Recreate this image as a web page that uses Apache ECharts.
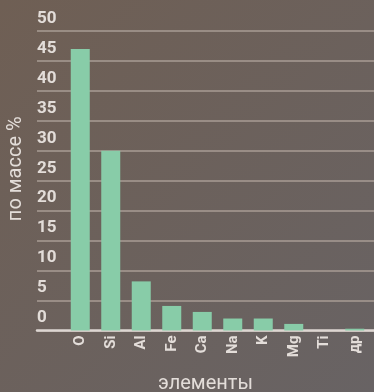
<!DOCTYPE html>
<html>
<head>
<meta charset="utf-8">
<script src="https://cdn.jsdelivr.net/npm/echarts@6/dist/echarts.min.js"></script>
<style>
  html, body { margin: 0; padding: 0; }
  #draw { width: 374px; height: 392px; }
</style>
</head>
<body>
<div id="draw"></div>
<script>
// данные
var elements = ['O', 'Si', 'Al', 'Fe', 'Ca', 'Na', 'K', 'Mg', 'Ti', 'др'];
var massPercent = [47, 30, 8.2, 4.1, 3.1, 2.0, 2.0, 1.1, 0, 0.3];

var textColor = '#e3ddd9';
var myChart = echarts.init(document.getElementById('draw'));

var option = {
	backgroundColor : {
		type : 'linear', x : 0, y : 0, x2 : 1, y2 : 1,
		colorStops : [ { offset : 0, color : '#6f5f54' }, { offset : 1, color : '#686364' } ]
	},
	textStyle : { fontFamily : 'Roboto' },
	grid : [ {
		left : 37, right : 0, top : 31, bottom : 61.5,
		containLabel : false, outerBoundsMode : 'none'
	}, {
		left : 65, right : 4, top : 31, bottom : 61.5,
		containLabel : false, outerBoundsMode : 'none'
	} ],
	xAxis : [ {
		gridIndex : 0,
		type : 'value', min : 0, max : 1,
		axisLine : { show : true, onZero : false, lineStyle : { color : '#ddd6d2', width : 2.5 } },
		axisTick : { show : false },
		axisLabel : { show : false },
		splitLine : { show : false },
		name : 'элементы',
		nameLocation : 'middle',
		nameGap : 43,
		nameTextStyle : { color : textColor, fontSize : 20 }
	}, {
		gridIndex : 1,
		type : 'category',
		data : elements,
		axisLine : { show : false },
		axisTick : { show : false },
		axisLabel : {
			rotate : 90, margin : 5,
			color : textColor, fontSize : 15, fontWeight : 'bold'
		}
	} ],
	yAxis : [ {
		gridIndex : 0,
		type : 'value', min : 0, max : 50, interval : 5,
		axisLine : { show : false },
		axisTick : { show : false },
		axisLabel : {
			inside : true, margin : 0,
			verticalAlign : 'bottom', padding : [ 0, 0, 4, 0 ],
			color : textColor, fontSize : 17, fontWeight : 'bold'
		},
		splitLine : { lineStyle : { color : '#a99d95', width : 1.5 } },
		name : 'по массе %',
		nameLocation : 'middle',
		nameGap : 11,
		nameRotate : 90,
		nameTextStyle : { color : textColor, fontSize : 20, padding : [ 0, 0, 0, 24 ] }
	}, {
		gridIndex : 1,
		type : 'value', min : 0, max : 50,
		show : false
	} ],
	series : [ {
		name : 'по массе %',
		type : 'bar',
		xAxisIndex : 1,
		yAxisIndex : 1,
		barWidth : 19,
		itemStyle : { color : '#88cca8' },
		data : massPercent
	} ]
};
myChart.setOption(option);
</script>
</body>
</html>
